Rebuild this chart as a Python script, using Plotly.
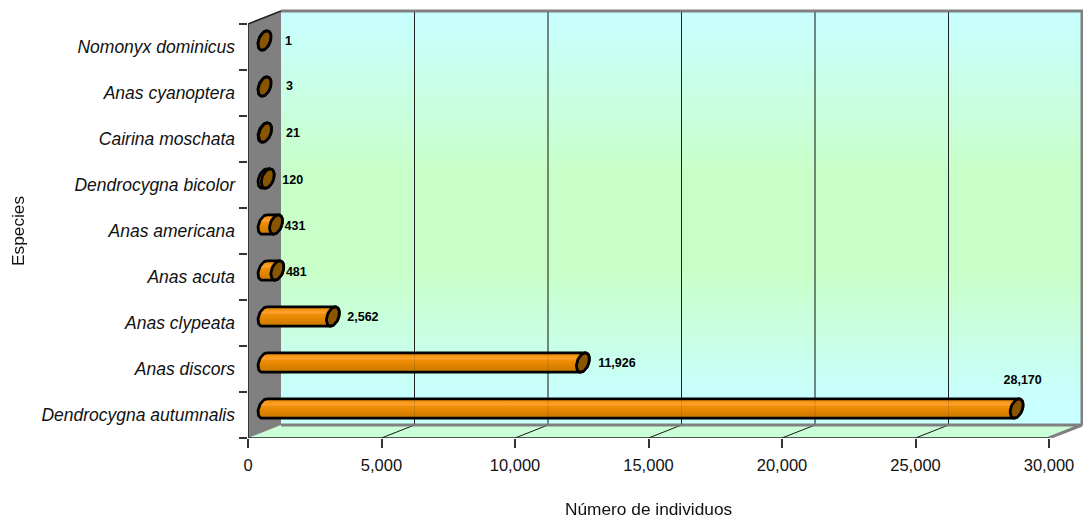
import numpy as np
import plotly.graph_objects as go

# Bird counts per species, listed from the bottom band of the chart upward
species = ["Dendrocygna autumnalis", "Anas discors", "Anas clypeata", "Anas acuta",
           "Anas americana", "Dendrocygna bicolor", "Cairina moschata",
           "Anas cyanoptera", "Nomonyx dominicus"]
counts = [28170, 11926, 2562, 481, 431, 120, 21, 3, 1]
count_labels = ["28,170", "11,926", "2,562", "481", "431", "120", "21", "3", "1"]
x_ticks = [0, 5000, 10000, 15000, 20000, 25000, 30000]
x_tick_text = ["0", "5,000", "10,000", "15,000", "20,000", "25,000", "30,000"]

# Nudge of each value label from the end of its cylinder, in pixels
label_dx = [6, 34, 30, 19, 19, 25, 28, 25, 24]
label_dy = [28, -1, -1, -2, -2, -2, -1.5, 0, -1]

# Scales of the oblique projection
PX_PER_UNIT = 801 / 30000
PX_PER_BAND = 414 / 9
DEPTH_X = 33 / PX_PER_UNIT
DEPTH_Y = 13 / PX_PER_BAND
FLOOR = -0.5
TOP = 8.5
XMAX = 30000

FONT = "Liberation Sans, Arial, sans-serif"
GREY = "#808080"
DARK = "#222222"


def cylinder_end(cx, cy, t):
    """Points on a leaning elliptical cylinder end, given its centre in data units."""
    px = 6.0 * np.cos(t) + 2.4 * np.sin(t)
    py = 9.6 * np.sin(t)
    return cx + px / PX_PER_UNIT, cy + py / PX_PER_BAND


def poly(xs, ys, **kw):
    return go.Scatter(x=list(xs), y=list(ys), mode="lines", hoverinfo="skip",
                      showlegend=False, cliponaxis=False, **kw)


fig = go.Figure()

# Back wall with its vertical colour blend
fig.add_trace(poly(
    [DEPTH_X, XMAX + DEPTH_X, XMAX + DEPTH_X, DEPTH_X, DEPTH_X],
    [FLOOR + DEPTH_Y, FLOOR + DEPTH_Y, TOP + DEPTH_Y, TOP + DEPTH_Y, FLOOR + DEPTH_Y],
    fill="toself", line=dict(width=0),
    fillgradient=dict(type="vertical", colorscale=[
        [0, "#C8FFFF"], [0.06, "#C8FFFF"], [0.2, "#C8FFE6"], [0.37, "#C8FFC8"],
        [0.61, "#C8FFC8"], [0.88, "#C8FFF0"], [1, "#C8FFFF"]])))

# Floor
fig.add_trace(poly(
    [0, XMAX, XMAX + DEPTH_X, DEPTH_X, 0],
    [FLOOR, FLOOR, FLOOR + DEPTH_Y, FLOOR + DEPTH_Y, FLOOR],
    fill="toself", fillcolor="#CBFFD8", line=dict(width=0)))

# Gridlines on the wall, continued across the floor
grid_x, grid_y = [], []
for v in x_ticks[1:-1]:
    grid_x += [v, v + DEPTH_X, v + DEPTH_X, None]
    grid_y += [FLOOR, FLOOR + DEPTH_Y, TOP + DEPTH_Y, None]
fig.add_trace(poly(grid_x, grid_y, line=dict(color=DARK, width=1)))

# Grey frame round the wall and floor
fig.add_trace(poly(
    [XMAX, XMAX + DEPTH_X, DEPTH_X, None, XMAX + DEPTH_X, XMAX + DEPTH_X, DEPTH_X],
    [FLOOR, FLOOR + DEPTH_Y, FLOOR + DEPTH_Y, None, FLOOR + DEPTH_Y, TOP + DEPTH_Y, TOP + DEPTH_Y],
    line=dict(color=GREY, width=3)))

# Side wall
fig.add_trace(poly(
    [0, DEPTH_X, DEPTH_X, 0, 0],
    [FLOOR, FLOOR + DEPTH_Y, TOP + DEPTH_Y, TOP, FLOOR],
    fill="toself", fillcolor=GREY, line=dict(width=0)))

# Dark front edges of the box
fig.add_trace(poly(
    [XMAX, 0, 0, DEPTH_X],
    [FLOOR, FLOOR, TOP, TOP + DEPTH_Y],
    line=dict(color=DARK, width=1.6)))

# Cylinders sit halfway into the depth of the box
body_scale = [[0, "#C87800"], [0.35, "#E08400"], [0.6, "#F08E08"],
              [0.72, "#FFA32E"], [0.85, "#F59412"], [1, "#E88A08"]]
t_left = np.linspace(np.pi / 2, 3 * np.pi / 2, 25)
t_right = np.linspace(-np.pi / 2, np.pi / 2, 25)
t_full = np.linspace(0, 2 * np.pi, 49)
end_x, end_y = [], []
for band, value in enumerate(counts):
    cx0 = DEPTH_X / 2
    cx1 = value + DEPTH_X / 2
    cy = band + DEPTH_Y / 2
    lx, ly = cylinder_end(cx0, cy, t_left)
    rx, ry = cylinder_end(cx1, cy, t_right)
    fig.add_trace(poly(
        np.r_[lx, rx, lx[0]], np.r_[ly, ry, ly[0]],
        fill="toself", line=dict(color="#000000", width=2.8),
        fillgradient=dict(type="vertical", colorscale=body_scale)))
    ex, ey = cylinder_end(cx1, cy, t_full)
    fig.add_trace(poly(ex, ey, fill="toself", fillcolor="#8A5500",
                       line=dict(color="#000000", width=2.8)))
    end_x.append(cx1)
    end_y.append(cy)

# Wall lines faintly showing through the cylinders
fig.add_trace(poly(grid_x, grid_y, line=dict(color=DARK, width=1), opacity=0.15))

# Value labels
fig.add_trace(go.Scatter(
    x=[x + dx / PX_PER_UNIT for x, dx in zip(end_x, label_dx)],
    y=[y + dy / PX_PER_BAND for y, dy in zip(end_y, label_dy)],
    mode="text", text=count_labels, textposition="middle center",
    textfont=dict(family=FONT, size=12.5, color="#000000", weight="bold"),
    hoverinfo="skip", showlegend=False, cliponaxis=False))

band_edges = [FLOOR + i for i in range(10)]

fig.update_layout(
    width=1084, height=521,
    margin=dict(l=248, r=1, t=8, b=83, autoexpand=False),
    paper_bgcolor="#FFFFFF", plot_bgcolor="rgba(0,0,0,0)",
    showlegend=False,
    font=dict(family=FONT, color="#111111"),
    xaxis=dict(
        range=[0, 835 / PX_PER_UNIT], tickmode="array",
        tickvals=x_ticks, ticktext=x_tick_text,
        ticks="outside", ticklen=9, tickwidth=1.5, tickcolor="#333333",
        ticklabelstandoff=3,
        tickfont=dict(family=FONT, size=16.5, color="#111111"),
        showgrid=False, zeroline=False, showline=False),
    yaxis=dict(
        range=[FLOOR, FLOOR + 430 / PX_PER_BAND], tickmode="array",
        tickvals=list(range(len(species))), ticktext=species,
        ticks="", ticklabelstandoff=12,
        tickfont=dict(family=FONT, size=17.5, color="#111111", style="italic"),
        minor=dict(tickmode="array", tickvals=band_edges, ticks="outside",
                   ticklen=8, tickwidth=1.5, tickcolor="#333333", showgrid=False),
        showgrid=False, zeroline=False, showline=False),
    annotations=[
        dict(text="Número de individuos", xref="paper", yref="paper",
             x=(649 - 248) / 835, y=(438 - 509) / 430, showarrow=False,
             xanchor="center", yanchor="middle",
             font=dict(family=FONT, size=17.3, color="#111111")),
        dict(text="Especies", xref="paper", yref="paper",
             x=(18 - 248) / 835, y=(438 - 231) / 430, showarrow=False, textangle=-90,
             xanchor="center", yanchor="middle",
             font=dict(family=FONT, size=17.3, color="#111111")),
    ],
)

fig.write_html("out.html")
